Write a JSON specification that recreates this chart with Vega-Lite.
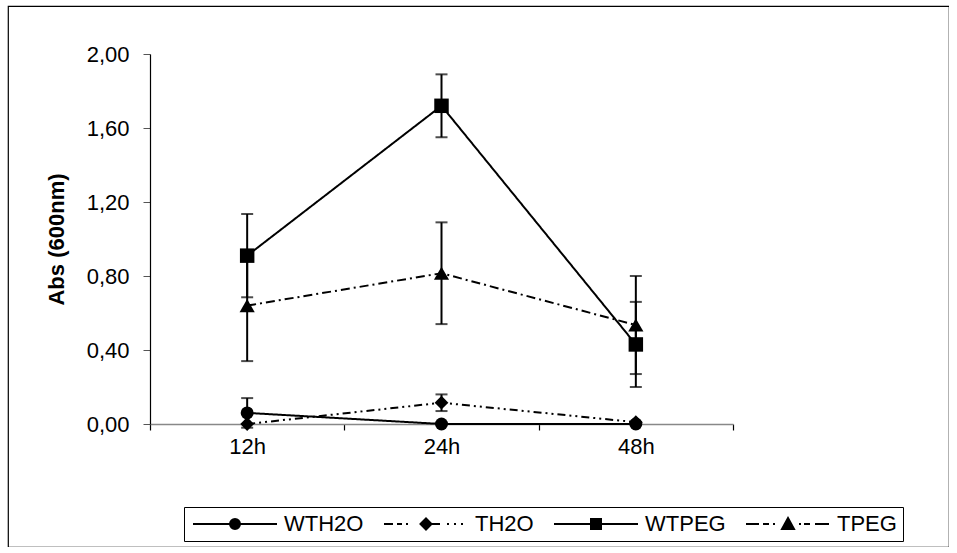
{
  "$schema": "https://vega.github.io/schema/vega-lite/v6.json",
  "width": 941,
  "height": 541,
  "autosize": "none",
  "padding": {"left": 8, "top": 6, "right": 0, "bottom": 0},
  "background": "white",
  "config": {
    "font": "Liberation Sans",
    "view": {"stroke": "black", "strokeWidth": 1.2},
    "axis": {"grid": false, "labelColor": "black", "titleColor": "black"}
  },
  "data": {
    "values": [
      {"series": "WTH2O", "t": "12h", "value": 0.06, "err": 0.08},
      {"series": "WTH2O", "t": "24h", "value": 0.0, "err": 0},
      {"series": "WTH2O", "t": "48h", "value": 0.0, "err": 0},
      {"series": "TH2O", "t": "12h", "value": 0.0, "err": 0},
      {"series": "TH2O", "t": "24h", "value": 0.115, "err": 0.045},
      {"series": "TH2O", "t": "48h", "value": 0.01, "err": 0},
      {"series": "WTPEG", "t": "12h", "value": 0.91, "err": 0.225},
      {"series": "WTPEG", "t": "24h", "value": 1.72, "err": 0.17},
      {"series": "WTPEG", "t": "48h", "value": 0.43, "err": 0.23},
      {"series": "TPEG", "t": "12h", "value": 0.64, "err": 0.3},
      {"series": "TPEG", "t": "24h", "value": 0.815, "err": 0.275},
      {"series": "TPEG", "t": "48h", "value": 0.535, "err": 0.265}
    ]
  },
  "resolve": {"scale": {"shape": "independent"}},
  "encoding": {
    "x": {
      "field": "t", "type": "nominal", "sort": ["12h", "24h", "48h"],
      "scale": {"type": "band", "range": [142, 725], "paddingInner": 0, "paddingOuter": 0},
      "axis": {
        "orient": "bottom", "offset": -123, "tickBand": "extent", "labelAngle": 0,
        "labelFontSize": 22, "tickSize": 6, "tickColor": "black", "tickWidth": 1.2,
        "domainColor": "#888888", "domainWidth": 1.5, "labelPadding": 6, "title": null
      }
    },
    "y": {
      "field": "value", "type": "quantitative", "title": "Abs (600nm)",
      "scale": {"domain": [0, 2], "range": [418, 48], "nice": false, "zero": false},
      "axis": {
        "orient": "left", "offset": -142, "values": [0, 0.4, 0.8, 1.2, 1.6, 2],
        "labelExpr": "replace(format(datum.value, '.2f'), '.', ',')",
        "labelFontSize": 22, "tickSize": 7, "tickColor": "#555555", "domainColor": "black",
        "domainWidth": 1.2, "labelPadding": 14, "titleFontSize": 22, "titleFontWeight": "bold",
        "titlePadding": 18
      }
    }
  },
  "layer": [
    {
      "transform": [{"filter": "datum.err > 0"}],
      "mark": {"type": "errorbar", "color": "black", "thickness": 2, "ticks": {"size": 12, "thickness": 2, "color": "black"}},
      "encoding": {
        "y": {"field": "value", "type": "quantitative", "title": "Abs (600nm)"},
        "yError": {"field": "err"}
      }
    },
    {
      "mark": {"type": "line", "color": "black", "strokeWidth": 2},
      "encoding": {
        "detail": {"field": "series"},
        "strokeDash": {
          "field": "series", "type": "nominal", "legend": null,
          "scale": {"domain": ["WTH2O", "TH2O", "WTPEG", "TPEG"], "range": [[1, 0], [8, 4, 2, 4, 2, 4], [1, 0], [9, 4, 2, 4]]}
        }
      }
    },
    {
      "mark": {"type": "point", "filled": true, "color": "black", "opacity": 1},
      "encoding": {
        "shape": {
          "field": "series", "type": "nominal", "legend": null,
          "scale": {"domain": ["WTH2O", "TH2O", "WTPEG", "TPEG"], "range": ["circle", "diamond", "square", "triangle-up"]}
        },
        "size": {
          "field": "series", "type": "nominal", "legend": null,
          "scale": {"domain": ["WTH2O", "TH2O", "WTPEG", "TPEG"], "range": [169, 230, 190, 250]}
        }
      }
    },
    {
      "transform": [{"filter": "datum.value > 100"}],
      "mark": {"type": "point", "filled": false, "color": "black", "opacity": 1, "size": 4, "strokeWidth": 2},
      "encoding": {
        "shape": {
          "field": "series", "type": "nominal",
          "scale": {
            "domain": ["WTH2O", "TH2O", "WTPEG", "TPEG"],
            "range": [
              "M-8,0H76M29,0A5,5,0,1,1,39,0A5,5,0,1,1,29,0ZM30,-3H38M29.1,-1H38.9M29.1,1H38.9M30,3H38",
              "M-8,0H1M5,0H10M14,0H16M28.5,0L34,-5.5L39.5,0L34,5.5ZM31.5,-3H36.5M29.5,-1H38.5M29.5,1H38.5M31.5,3H36.5M39,0H48M55,0H57M62,0H64M69,0H71",
              "M-8,0H76M29,-5H39V5H29ZM29,-3H39M29,-1H39M29,1H39M29,3H39",
              "M-8,0H5M9,0H15M19,0H21M34,-6L40,5L28,5ZM29.1,3H38.9M30.2,1H37.8M31.3,-1H36.7M32.4,-3H35.6M45,0H47M50,0H56M61,0H75"
            ]
          },
          "legend": {
            "title": null, "orient": "none", "legendX": 176, "legendY": 501,
            "direction": "horizontal", "columns": 4, "strokeColor": "black", "padding": 6,
            "labelFontSize": 22, "labelColor": "black", "labelOffset": 72, "columnPadding": 16,
            "symbolSize": 4, "symbolOpacity": 1, "symbolStrokeWidth": 2, "symbolStrokeColor": "black",
            "encode": {
              "symbols": {
                "update": {
                  "stroke": {"value": "black"},
                  "strokeWidth": {"value": 2},
                  "fill": {"value": "black"}
                }
              }
            }
          }
        }
      }
    }
  ]
}
